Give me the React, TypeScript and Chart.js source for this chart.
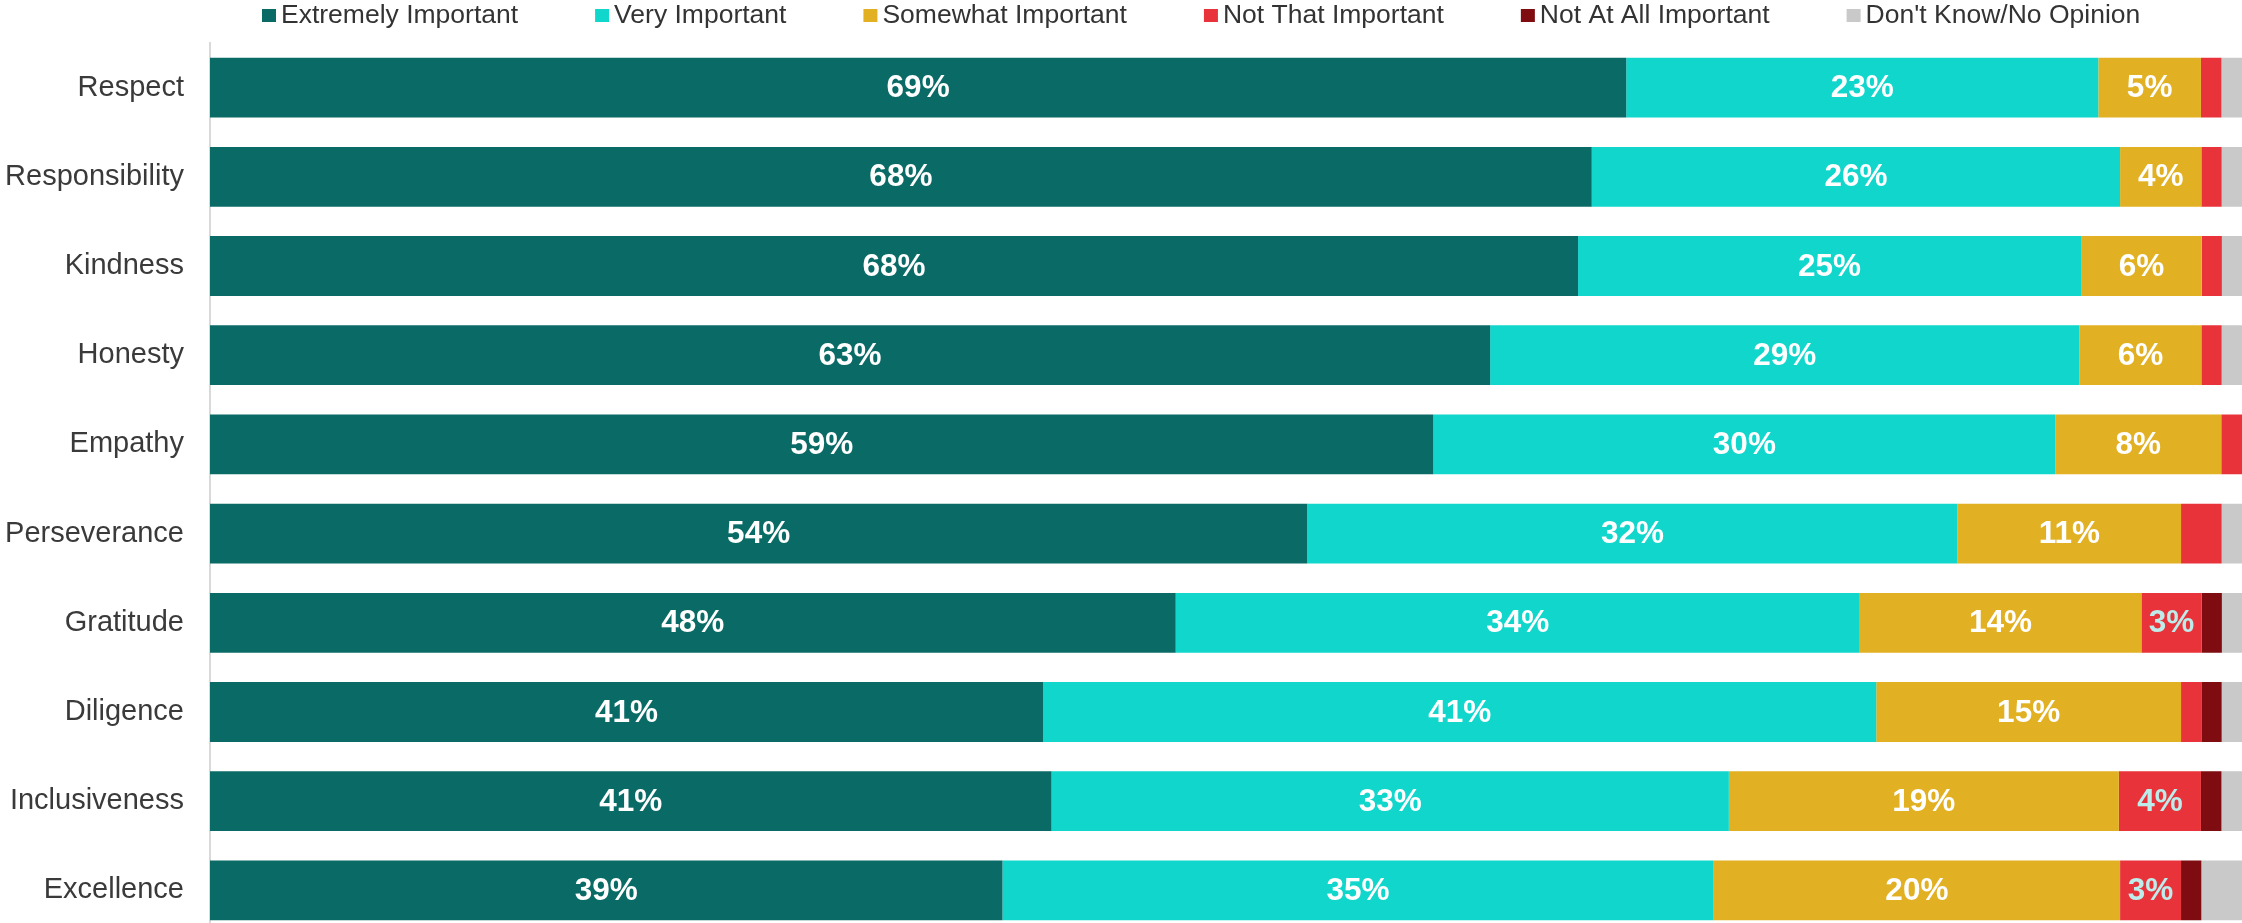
import React, { useEffect, useRef } from "react";
import { Chart, registerables } from "chart.js";

Chart.register(...registerables);

const categories = [
  "Respect",
  "Responsibility",
  "Kindness",
  "Honesty",
  "Empathy",
  "Perseverance",
  "Gratitude",
  "Diligence",
  "Inclusiveness",
  "Excellence",
];

const seriesNames = [
  "Extremely Important",
  "Very Important",
  "Somewhat Important",
  "Not That Important",
  "Not At All Important",
  "Don't Know/No Opinion",
];

const extremelyImportant = [69, 68, 68, 63, 59, 54, 48, 41, 41, 39];
const veryImportant = [23, 26, 25, 29, 30, 32, 34, 41, 33, 35];
const somewhatImportant = [5, 4, 6, 6, 8, 11, 14, 15, 19, 20];
const notThatImportant = [1, 1, 1, 1, 1, 2, 3, 1, 4, 3];
const notAtAllImportant = [0, 0, 0, 0, 0, 0, 1, 1, 1, 1];
const dontKnow = [1, 1, 1, 1, 0, 1, 1, 1, 1, 2];

const seriesColors = ["#0A6B66", "#10D6CC", "#E1B023", "#E8333A", "#7E0C10", "#C9C9C9"];
const labelColors = ["#FFFFFF", "#FFFFFF", "#FFFFFF", "#BDEDEB", "#FFFFFF", "#FFFFFF"];

const FONT = "'Liberation Sans', Arial, sans-serif";
const W = 2242;
const H = 935;

const allSeries = [
  extremelyImportant,
  veryImportant,
  somewhatImportant,
  notThatImportant,
  notAtAllImportant,
  dontKnow,
];

const rowTotals = categories.map((_, i) => allSeries.reduce((s, arr) => s + arr[i], 0));

const valueLabelPlugin = {
  id: "valueLabels",
  afterDatasetsDraw(chart: any) {
    const ctx = chart.ctx;
    ctx.save();
    ctx.font = `bold 31.5px ${FONT}`;
    ctx.textAlign = "center";
    ctx.textBaseline = "middle";
    chart.data.datasets.forEach((ds: any, di: number) => {
      const meta = chart.getDatasetMeta(di);
      meta.data.forEach((el: any, i: number) => {
        const raw = allSeries[di][i];
        if (raw < 3) return;
        const cx = (el.x + el.base) / 2;
        ctx.fillStyle = labelColors[di];
        ctx.fillText(`${raw}%`, cx, el.y + 1);
      });
    });
    ctx.restore();
  },
};

const legendPlugin = {
  id: "customLegend",
  afterDraw(chart: any) {
    const ctx = chart.ctx;
    ctx.save();
    ctx.font = `26.5px ${FONT}`;
    ctx.textBaseline = "alphabetic";
    ctx.textAlign = "left";
    let x = 262;
    seriesNames.forEach((name, i) => {
      ctx.fillStyle = seriesColors[i];
      ctx.fillRect(x, 9, 14, 13);
      ctx.fillStyle = "#333333";
      const tx = x + 19;
      ctx.fillText(name, tx, 23);
      x = tx + ctx.measureText(name).width + 77;
    });
    ctx.restore();
  },
};

export default function App() {
  const canvasRef = useRef<HTMLCanvasElement | null>(null);

  useEffect(() => {
    if (!canvasRef.current) return;
    const datasets = allSeries.map((arr, si) => ({
      label: seriesNames[si],
      data: arr.map((v, i) => (v / rowTotals[i]) * 100),
      backgroundColor: seriesColors[si],
      borderWidth: 0,
      categoryPercentage: 0.67,
      barPercentage: 1,
    }));
    const chart = new Chart(canvasRef.current, {
      type: "bar",
      data: { labels: categories, datasets },
      options: {
        indexAxis: "y",
        responsive: false,
        animation: false,
        devicePixelRatio: 1,
        layout: { autoPadding: false, padding: { top: 43, left: 0, right: 0, bottom: 0 } },
        plugins: {
          legend: { display: false },
          tooltip: { enabled: false },
          title: { display: false },
        },
        scales: {
          x: {
            stacked: true,
            min: 0,
            max: 100,
            display: false,
          },
          y: {
            stacked: true,
            grid: { display: false, drawTicks: false },
            border: { display: true, color: "#D9D9D9", width: 2 },
            ticks: {
              padding: 26,
              color: "#3A3A3A",
              font: { family: FONT, size: 29 },
            },
            afterFit(scale: any) {
              scale.width = 210;
              scale.paddingTop = 0;
              scale.paddingBottom = 0;
            },
          },
        },
      },
      plugins: [valueLabelPlugin, legendPlugin],
    });
    return () => chart.destroy();
  }, []);

  return (
    <div
      style={{
        position: "fixed",
        left: 0,
        top: 0,
        width: W,
        height: 923,
        overflow: "hidden",
        background: "#FFFFFF",
      }}
    >
      <canvas
        ref={canvasRef}
        width={W}
        height={H}
        style={{ width: W, height: H, display: "block" }}
      />
    </div>
  );
}
